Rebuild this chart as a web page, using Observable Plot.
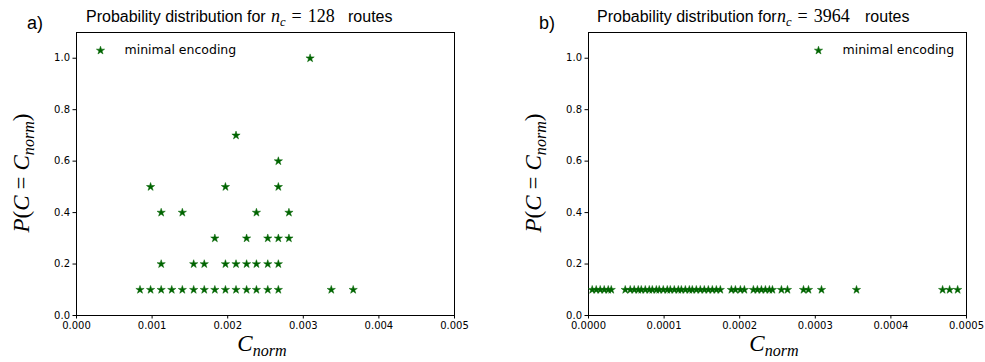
<!DOCTYPE html>
<html>
<head>
<meta charset="utf-8">
<script src="https://cdn.jsdelivr.net/npm/d3@7"></script>
<script src="https://cdn.jsdelivr.net/npm/@observablehq/plot@0.6"></script>
<style>
html, body { margin: 0; padding: 0; background: #fff; }
#page { position: relative; width: 985px; height: 362px; overflow: hidden; font-family: "Liberation Sans", Arial, sans-serif; color: #000; }
.panel { position: absolute; top: 0; }
.lbl { position: absolute; white-space: nowrap; line-height: 1; color: #000; }
.sans { font-family: "Liberation Sans", Arial, sans-serif; font-size: 16px; }
.math { font-family: "Liberation Serif", "DejaVu Serif", serif; font-size: 18px; }
.math sub { font-size: 0.7em; vertical-align: -0.3em; line-height: 0; }
.eq { display: inline-block; margin: 0 6px; }
.ylab { font-family: "Liberation Serif", "DejaVu Serif", serif; font-size: 23px; transform: translate(-50%, -50%) rotate(-90deg); transform-origin: center; }
.xlab { font-family: "Liberation Serif", "DejaVu Serif", serif; font-size: 23px; transform: translate(-50%, -50%); }
.ylab sub, .xlab sub { font-size: 0.7em; vertical-align: -0.35em; line-height: 0; }
</style>
</head>
<body>
<div id="page">
  <div class="panel" id="pa" style="left:0px"></div>
  <div class="panel" id="pb" style="left:492px"></div>

  <div class="lbl sans" style="left:27px; top:14px; font-size:18px;">a)</div>
  <div class="lbl sans" style="left:86px; top:9px;">Probability distribution for</div>
  <div class="lbl math" style="left:271px; top:7px;"><i>n</i><sub><i>c</i></sub><span class="eq">=</span>128</div>
  <div class="lbl sans" style="left:348px; top:9px;">routes</div>

  <div class="lbl sans" style="left:539px; top:14px; font-size:18px;">b)</div>
  <div class="lbl sans" style="left:597px; top:9px;">Probability distribution for</div>
  <div class="lbl math" style="left:777px; top:7px;"><i>n</i><sub><i>c</i></sub><span class="eq">=</span>3964</div>
  <div class="lbl sans" style="left:865px; top:9px;">routes</div>

  <div class="lbl ylab" style="left:21px; top:173px;"><i>P</i>(<i>C</i><span class="eq">=</span><i>C</i><sub><i>norm</i></sub>)</div>
  <div class="lbl ylab" style="left:533px; top:173px;"><i>P</i>(<i>C</i><span class="eq">=</span><i>C</i><sub><i>norm</i></sub>)</div>
  <div class="lbl xlab" style="left:262px; top:343px;"><i>C</i><sub><i>norm</i></sub></div>
  <div class="lbl xlab" style="left:774px; top:343px;"><i>C</i><sub><i>norm</i></sub></div>
</div>
<script>
// Panel a: n_c = 128 routes
const aCnorm = [
  0.00084, 0.00098, 0.00112, 0.00126, 0.00140, 0.00155, 0.00169, 0.00183, 0.00197, 0.00211, 0.00225, 0.00238, 0.00253, 0.00267, 0.00337, 0.00366,
  0.00112, 0.00155, 0.00169, 0.00197, 0.00211, 0.00225, 0.00238, 0.00253, 0.00267,
  0.00183, 0.00225, 0.00253, 0.00267, 0.00281,
  0.00112, 0.00140, 0.00238, 0.00281,
  0.00098, 0.00197, 0.00267,
  0.00267,
  0.00211,
  0.00309
];
const aProb = [
  0.1, 0.1, 0.1, 0.1, 0.1, 0.1, 0.1, 0.1, 0.1, 0.1, 0.1, 0.1, 0.1, 0.1, 0.1, 0.1,
  0.2, 0.2, 0.2, 0.2, 0.2, 0.2, 0.2, 0.2, 0.2,
  0.3, 0.3, 0.3, 0.3, 0.3,
  0.4, 0.4, 0.4, 0.4,
  0.5, 0.5, 0.5,
  0.6,
  0.7,
  1.0
];

// Panel b: n_c = 3964 routes
const bCnorm = [
  0.0000049, 0.0000102, 0.0000155, 0.0000208, 0.0000261, 0.0000301,
  0.0000486, 0.0000552, 0.0000605, 0.0000658, 0.0000698, 0.0000751, 0.0000804, 0.0000844, 0.0000897, 0.0000936,
  0.0000989, 0.0001042, 0.0001082, 0.0001135, 0.0001188, 0.0001228, 0.0001281, 0.0001334, 0.0001373, 0.0001426,
  0.0001479, 0.0001532, 0.0001585, 0.0001638, 0.0001691, 0.0001744,
  0.0001890, 0.0001943, 0.0002009, 0.0002062,
  0.0002181, 0.0002234, 0.0002287, 0.0002340, 0.0002393, 0.0002433,
  0.0002552, 0.0002632,
  0.0002844, 0.0002910, 0.0003082, 0.0003545,
  0.0004684, 0.0004777, 0.0004883
];
const bProb = [
  0.1, 0.1, 0.1, 0.1, 0.1, 0.1,
  0.1, 0.1, 0.1, 0.1, 0.1, 0.1, 0.1, 0.1, 0.1, 0.1,
  0.1, 0.1, 0.1, 0.1, 0.1, 0.1, 0.1, 0.1, 0.1, 0.1,
  0.1, 0.1, 0.1, 0.1, 0.1, 0.1,
  0.1, 0.1, 0.1, 0.1,
  0.1, 0.1, 0.1, 0.1, 0.1, 0.1,
  0.1, 0.1,
  0.1, 0.1, 0.1, 0.1,
  0.1, 0.1, 0.1
];

const yTicks = [0.0, 0.2, 0.4, 0.6, 0.8, 1.0];
const aXTicks = [0.000, 0.001, 0.002, 0.003, 0.004, 0.005];
const bXTicks = [0.0000, 0.0001, 0.0002, 0.0003, 0.0004, 0.0005];
const legendLabel = "minimal encoding";

const green = "#006400";

function panel({cnorm, prob, xDomain, xTicks, xDigits, width, marginLeft, marginRight, legendAnchor, starDx, textDx}) {
  const data = cnorm.map((c, i) => ({c, p: prob[i]}));
  return Plot.plot({
    width, height: 362,
    marginTop: 32, marginBottom: 47, marginLeft, marginRight,
    style: {fontFamily: "'DejaVu Sans', sans-serif", fontSize: "10px", color: "#000", background: "transparent", overflow: "visible"},
    x: {domain: xDomain, ticks: xTicks, tickFormat: d => d.toFixed(xDigits), tickSize: 3.5, tickPadding: 3, label: null},
    y: {domain: [0, 1.1], ticks: yTicks, tickFormat: d => d.toFixed(1), tickSize: 3.5, tickPadding: 3, label: null},
    marks: [
      Plot.frame({stroke: "#000", strokeWidth: 1}),
      Plot.dot(data, {x: "c", y: "p", symbol: "star", r: 2.6, fill: green, stroke: green, strokeWidth: 0.5}),
      Plot.dot([legendLabel], {frameAnchor: legendAnchor, dx: starDx, dy: 18, symbol: "star", r: 2.6, fill: green, stroke: green, strokeWidth: 0.5}),
      Plot.text([legendLabel], {frameAnchor: legendAnchor, dx: textDx, dy: 17, text: d => d, textAnchor: "start", lineAnchor: "middle", fontSize: 12.5, fill: "#000"})
    ]
  });
}

document.getElementById("pa").append(panel({
  cnorm: aCnorm, prob: aProb, xDomain: [0, 0.005], xTicks: aXTicks, xDigits: 3,
  width: 492, marginLeft: 76, marginRight: 38,
  legendAnchor: "top-left", starDx: 24, textDx: 48
}));
document.getElementById("pb").append(panel({
  cnorm: bCnorm, prob: bProb, xDomain: [0, 0.0005], xTicks: bXTicks, xDigits: 4,
  width: 493, marginLeft: 96, marginRight: 19,
  legendAnchor: "top-right", starDx: -148, textDx: -124
}));
</script>
</body>
</html>
